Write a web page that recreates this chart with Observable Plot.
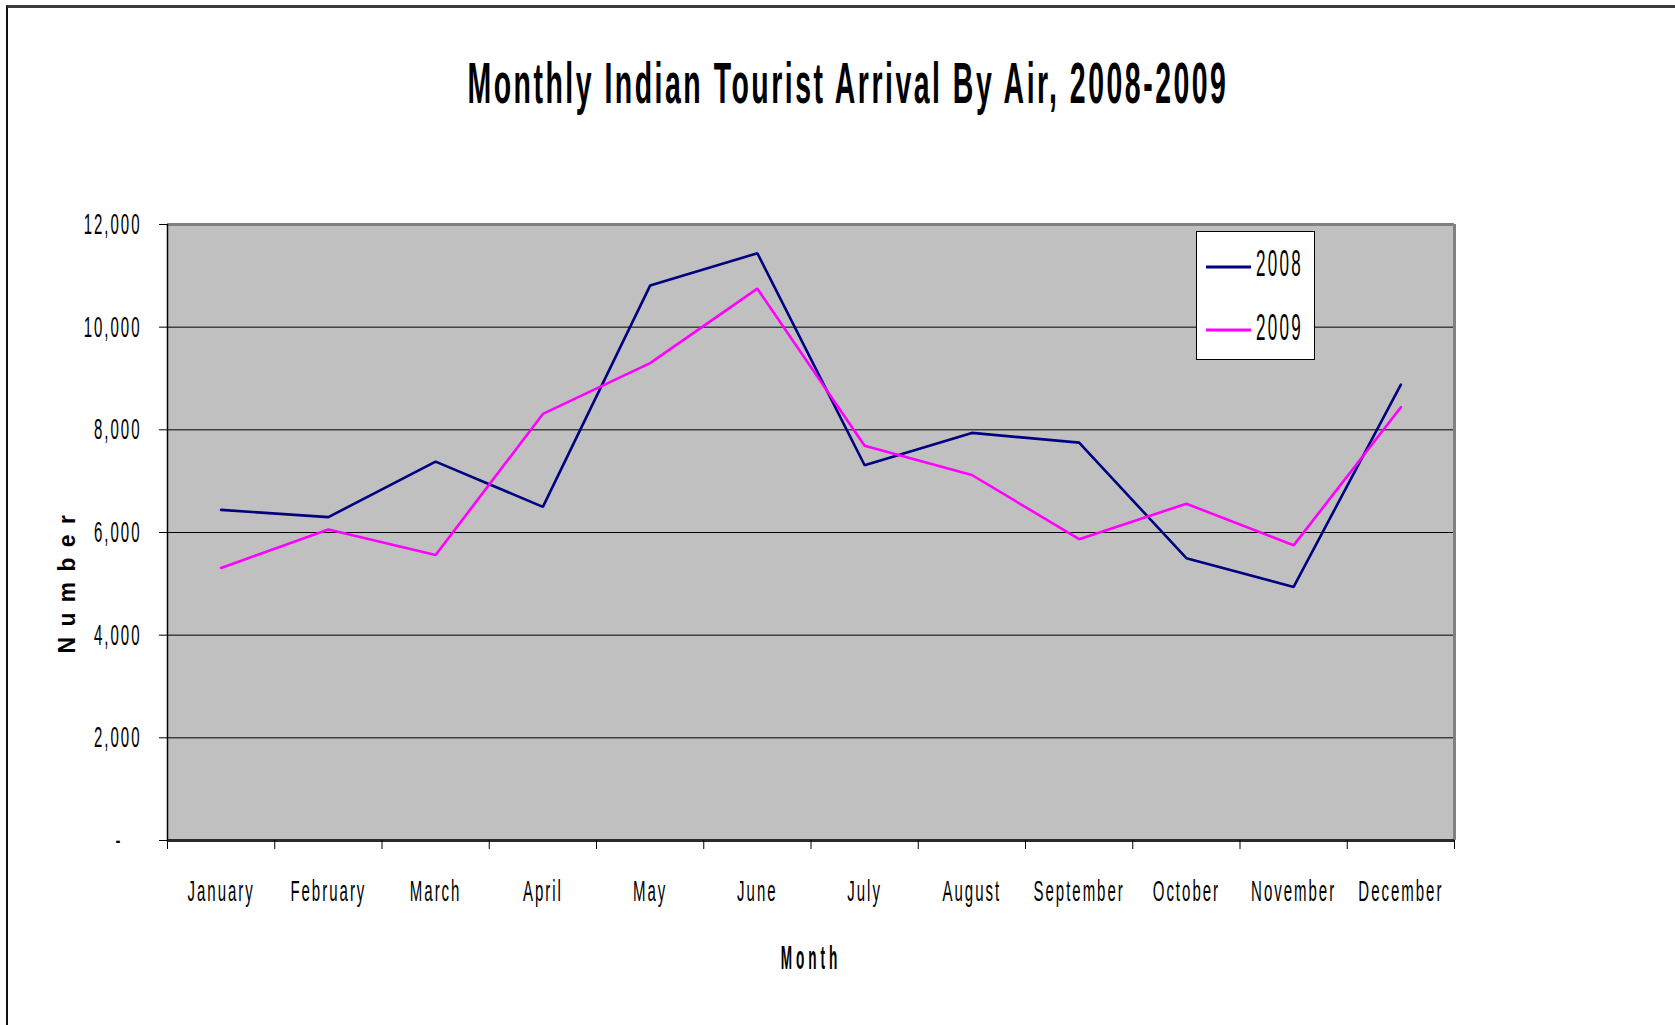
<!DOCTYPE html>
<html>
<head>
<meta charset="utf-8">
<script src="https://cdn.jsdelivr.net/npm/d3@7"></script>
<script src="https://cdn.jsdelivr.net/npm/@observablehq/plot@0.6"></script>
<style>
html, body { margin: 0; padding: 0; background: #fff; }
#page { position: relative; width: 1675px; height: 1025px; overflow: hidden; font-family: "Liberation Sans", Arial, sans-serif; }
#frame { position: absolute; left: 6px; top: 5px; width: 1800px; height: 1200px; border-top: 3px solid #3c3c3c; border-left: 2px solid #111; }
#title { position: absolute; top: 55px; left: 0; width: 1695px; text-align: center; font-size: 57px; line-height: 57px; font-weight: bold; white-space: nowrap; color: #000; }
#title span { display: inline-block; transform-origin: 50% 50%; letter-spacing: 5px; }
#chart { position: absolute; left: 0; top: 150px; }
#legend { position: absolute; left: 1196px; top: 231px; overflow: visible; }
</style>
</head>
<body>
<div id="page">
  <div id="frame"></div>
  <div id="title"><span>Monthly Indian Tourist Arrival By Air, 2008-2009</span></div>
  <div id="chart"></div>
  <svg id="legend" width="120" height="130"></svg>
</div>
<script>
const months = ["January", "February", "March", "April", "May", "June", "July", "August", "September", "October", "November", "December"];
const arrivals2008 = [6440, 6300, 7380, 6500, 10810, 11440, 7310, 7940, 7750, 5500, 4940, 8880];
const arrivals2009 = [5310, 6060, 5560, 8310, 9300, 10750, 7690, 7120, 5870, 6560, 5750, 8440];
const years = ["2008", "2009"];
const yearColors = ["#000080", "#ff00ff"];
const yTicks = [0, 2000, 4000, 6000, 8000, 10000, 12000];
const xTitle = "Month";
const yTitle = "Number";
const zeroLabel = "-";

const FONT = '"Liberation Sans", Arial, sans-serif';
const seriesValues = [arrivals2008, arrivals2009];
const rows = years.flatMap((yr, k) => months.map((m, i) => ({month: m, index: i, year: yr, value: seriesValues[k][i]})));
const fmt = d3.format(",");

const chart = Plot.plot({
  width: 1675,
  height: 870,
  marginLeft: 167,
  marginRight: 221,
  marginTop: 74,
  marginBottom: 180,
  style: {background: "transparent", fontFamily: FONT, overflow: "visible", color: "#000"},
  x: {domain: [0, months.length], label: null},
  y: {domain: [0, 12000], label: null},
  color: {domain: years, range: yearColors},
  marks: [
    Plot.frame({fill: "#c0c0c0", stroke: null}),
    Plot.ruleY(yTicks.slice(1, -1), {stroke: "#000", strokeWidth: 1}),
    Plot.line(rows, {x: d => d.index + 0.5, y: "value", z: "year", stroke: "year", strokeWidth: 2.6, strokeLinejoin: "miter"}),
    Plot.ruleY([12000], {stroke: "#808080", strokeWidth: 3}),
    Plot.ruleX([months.length], {stroke: "#808080", strokeWidth: 3}),
    Plot.ruleY([0], {stroke: "#2a2a2a", strokeWidth: 3}),
    Plot.ruleX([0], {stroke: "#000", strokeWidth: 1.5}),
    Plot.axisY({ticks: yTicks, tickSize: 8, tickPadding: 18, stroke: "#000", tickFormat: d => d === 0 ? "" : fmt(d), label: null}),
    Plot.axisX({ticks: d3.range(months.length + 1), tickSize: 9, stroke: "#000", tickFormat: () => "", label: null}),
    Plot.text(months, {x: (d, i) => i + 0.5, frameAnchor: "bottom", lineAnchor: "bottom", dy: 60, text: d => d}),
    Plot.text([0], {y: d => d, frameAnchor: "left", textAnchor: "end", dx: -47, text: () => zeroLabel}),
    Plot.text([xTitle], {frameAnchor: "bottom", lineAnchor: "bottom", dy: 128, text: d => d, fontWeight: "bold"}),
    Plot.text([yTitle], {frameAnchor: "left", rotate: -90, dx: -100, dy: 121, text: d => d, fontWeight: "bold"})
  ]
});
document.getElementById("chart").appendChild(chart);

function condense(t, {size, sx, spacing, weight}) {
  const x = t.getAttribute("x");
  let tr = t.getAttribute("transform") || "";
  if (x !== null) {
    tr += ` translate(${parseFloat(x) || 0},0)`;
    t.removeAttribute("x");
  }
  t.setAttribute("transform", `${tr} scale(${sx},1)`);
  t.style.fontSize = size + "px";
  t.style.letterSpacing = spacing + "px";
  t.style.fontFamily = FONT;
  if (weight) t.style.fontWeight = weight;
  t.style.fill = "#000";
}
const tickTexts = new Set(yTicks.map(d => fmt(d)));
chart.querySelectorAll("text").forEach(t => {
  const s = t.textContent;
  if (tickTexts.has(s)) condense(t, {size: 30, sx: 0.5, spacing: 4});
  else if (months.includes(s)) condense(t, {size: 30, sx: 0.5, spacing: 4});
  else if (s === zeroLabel) condense(t, {size: 30, sx: 0.5, spacing: 0});
  else if (s === xTitle) condense(t, {size: 34, sx: 0.4, spacing: 10, weight: "bold"});
  else if (s === yTitle) condense(t, {size: 24, sx: 0.95, spacing: 11, weight: "bold"});
});

// Legend box (inside plot area, as in the original)
const legend = d3.select("#legend");
legend.append("rect").attr("x", 0.5).attr("y", 0.5).attr("width", 118).attr("height", 128)
  .attr("fill", "#fff").attr("stroke", "#000").attr("stroke-width", 1);
years.forEach((yr, i) => {
  const cy = 36 + i * 63;
  legend.append("line").attr("x1", 10).attr("x2", 55).attr("y1", cy).attr("y2", cy)
    .attr("stroke", yearColors[i]).attr("stroke-width", 3);
  legend.append("text").text(yr)
    .attr("transform", `translate(60,${45 + i * 64}) scale(0.46,1)`)
    .style("font-family", FONT).style("font-size", "37px").style("letter-spacing", "5px").attr("fill", "#000");
});

// Title: condensed to the original's width
const span = document.querySelector("#title span");
const natural = span.offsetWidth;
span.style.transform = `scaleX(${761 / natural})`;
</script>
</body>
</html>
